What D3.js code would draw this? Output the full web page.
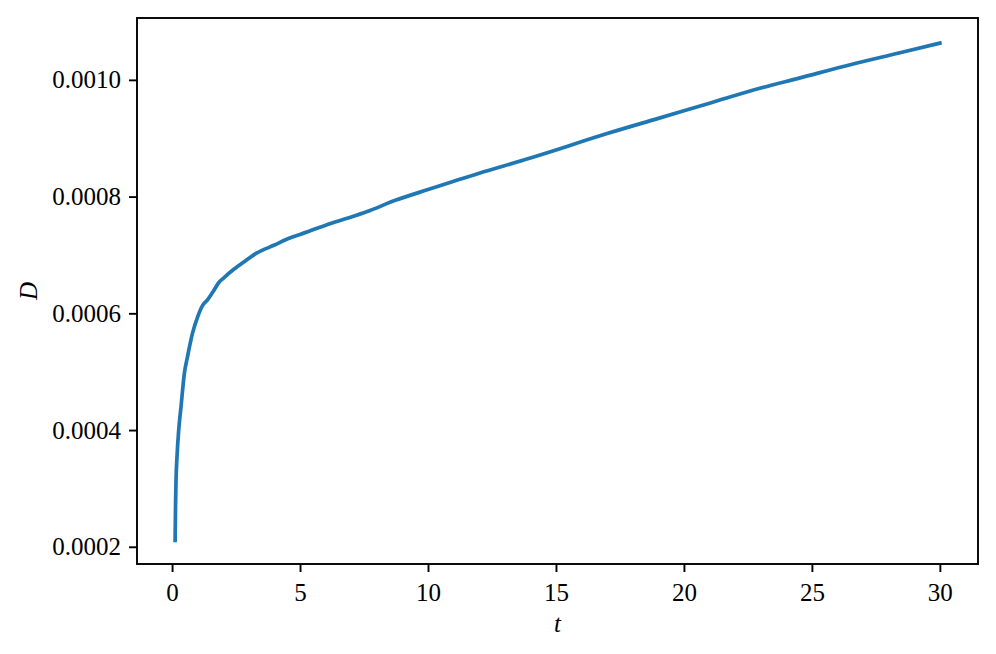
<!DOCTYPE html>
<html>
<head>
<meta charset="utf-8">
<script src="https://cdn.jsdelivr.net/npm/d3@7"></script>
<style>
  html, body { margin: 0; padding: 0; background: #fff; }
  svg text { font-family: "Liberation Serif", "DejaVu Serif", serif; fill: #000; }
</style>
</head>
<body>
<svg id="chart" width="996" height="654"></svg>
<script>
// values
var tValues = [0.12, 0.135, 0.155, 0.2, 0.26, 0.35, 0.48, 0.6, 0.8, 1.0, 1.2, 1.4, 1.6, 1.85, 2.0, 2.4, 2.8, 3.3,
  4.0, 4.6, 5.0, 6.0, 7.0, 7.6, 8.75, 10, 12, 14, 15, 17, 19, 21, 23, 24.5, 26.5, 28.4, 30];
var dValues = [0.000211, 0.00027, 0.000314, 0.00036, 0.0004, 0.00044, 0.000497, 0.000525, 0.000566, 0.000594,
  0.000614, 0.000624, 0.000637, 0.000654, 0.00066, 0.000675, 0.000688, 0.000703, 0.000717, 0.000729, 0.000735,
  0.000751, 0.000765, 0.000774, 0.000794, 0.000812, 0.00084, 0.000866, 0.00088, 0.000908, 0.000934, 0.00096,
  0.000986, 0.001003, 0.001026, 0.001046, 0.001063];
var xTicks = [0, 5, 10, 15, 20, 25, 30];
var yTicks = [0.0002, 0.0004, 0.0006, 0.0008, 0.0010];

var margin = {top: 18, right: 18, bottom: 90, left: 137}
  , width = 996 - margin.left - margin.right
  , height = 654 - margin.top - margin.bottom;

var data = tValues.map(function(t, i) { return {t: t, d: dValues[i]}; });

var xScale = d3.scaleLinear()
    .domain([-1.37, 31.49])
    .range([0, width]);

var yScale = d3.scaleLinear()
    .domain([0.0001705, 0.001106])
    .range([height, 0]);

var svg = d3.select("#chart");
var g = svg.append("g")
    .attr("transform", "translate(" + margin.left + "," + margin.top + ")");

var line = d3.line()
    .x(function(d) { return xScale(d.t); })
    .y(function(d) { return yScale(d.d); })
    .curve(d3.curveMonotoneX);

g.append("path")
    .datum(data)
    .attr("fill", "none")
    .attr("stroke", "#1f77b4")
    .attr("stroke-width", 3.7)
    .attr("stroke-linecap", "square")
    .attr("d", line);

// axes
var xAxis = g.append("g")
    .attr("transform", "translate(0," + height + ")")
    .call(d3.axisBottom(xScale).tickValues(xTicks).tickSize(8).tickPadding(8).tickFormat(d3.format("d")));

var yAxis = g.append("g")
    .call(d3.axisLeft(yScale).tickValues(yTicks).tickSize(8).tickPadding(8).tickFormat(d3.format(".4f")));

[xAxis, yAxis].forEach(function(a) {
  a.select(".domain").remove();
  a.selectAll(".tick line").attr("stroke", "#000").attr("stroke-width", 1.9);
  a.selectAll(".tick text").attr("font-size", 25).attr("font-family", "Liberation Serif");
});
xAxis.selectAll(".tick text").attr("dy", "0.85em");

// frame
g.append("rect")
    .attr("width", width)
    .attr("height", height)
    .attr("fill", "none")
    .attr("stroke", "#000")
    .attr("stroke-width", 1.9);

// labels
g.append("text")
    .attr("x", width / 2)
    .attr("y", height + 68)
    .attr("text-anchor", "middle")
    .attr("font-size", 25)
    .attr("font-style", "italic")
    .text("t");

g.append("text")
    .attr("transform", "translate(" + (-100) + "," + (height / 2) + ") rotate(-90)")
    .attr("text-anchor", "middle")
    .attr("font-size", 25)
    .attr("font-style", "italic")
    .text("D");
</script>
</body>
</html>
